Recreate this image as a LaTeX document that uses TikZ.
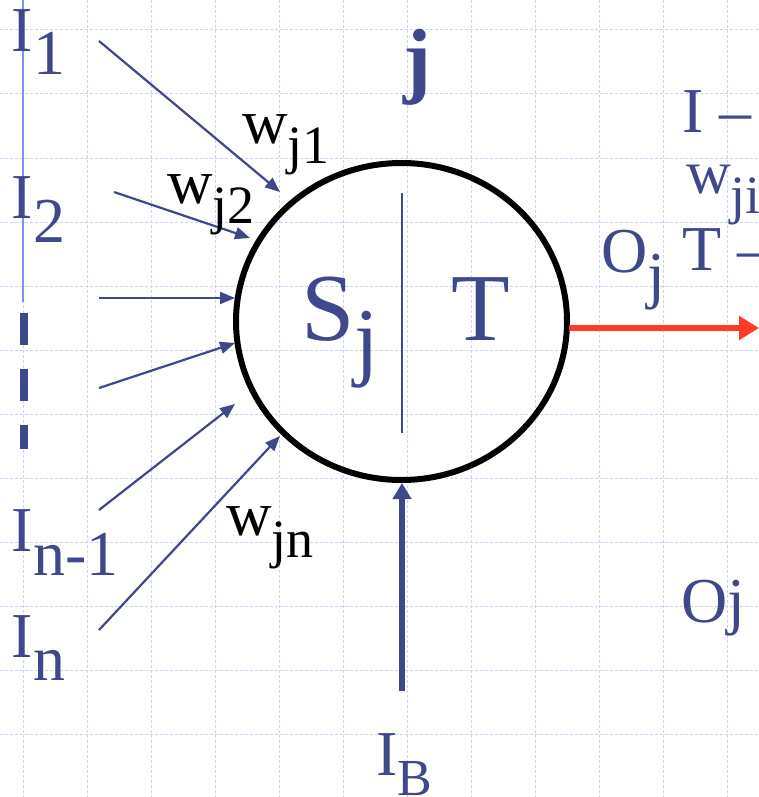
\documentclass[tikz,border=0pt]{standalone}
\usepackage{fontspec}
\setmainfont{Liberation Serif}
\usetikzlibrary{arrows.meta,shapes.geometric}
\definecolor{ink}{RGB}{64,72,140}
\definecolor{gridc}{RGB}{200,212,245}
\definecolor{axisc}{RGB}{120,150,240}
\definecolor{outred}{RGB}{255,58,40}
\newcommand\lowr[2]{\raisebox{-#1}{#2}}
\newcommand\fsz[1]{\fontsize{#1}{#1}\selectfont}
\begin{document}
\begin{tikzpicture}[x=1pt,y=-1pt,
  lbl/.style={inner sep=0pt, outer sep=0pt, anchor=base west, text=ink, font=\fsz{64}},
  wlbl/.style={lbl, text=black, font=\fsz{63}},
  big/.style={lbl, font=\fsz{96}},
  gridline/.style={gridc, line width=1pt, dash pattern=on 3pt off 2pt},
  inarrow/.style={ink, line width=2.2pt, -{Triangle[length=15pt,width=12pt]}},
]
\useasboundingbox (0,0) rectangle (759,797);
\fill[white] (0,0) rectangle (759,797);
\clip (0,0) rectangle (759,797);
% grid
\foreach \k in {0,...,11} {
  \draw[gridline] ({23+64*\k},0) -- ({23+64*\k},797);
  \draw[gridline] (0,{30+64*\k}) -- (759,{30+64*\k});
}
% left axis
\coordinate (axtop) at (23,0);
\coordinate (axbot) at (23,302);
\draw[axisc, line width=2.5pt] (axtop) -- (axbot);
\coordinate (dtop) at (24,313);
\coordinate (dbot) at (24,449);
\draw[ink, line width=8pt, dash pattern=on 32pt off 24pt] (dtop) -- (dbot);

% neuron
\node[draw=black, line width=6pt, ellipse, minimum width=331pt, minimum height=317pt, inner sep=0pt] (neuron) at (401.5,321.5) {};
\coordinate (divtop) at (402,193);
\coordinate (divbot) at (402,433);
\draw[ink, line width=1.5pt] (divtop) -- (divbot);
\node[big] (S) at (301,340) {S{\fsz{88}\lowr{29pt}{j}}};
\node[big] (T) at (451,340) {T};

% inputs
\coordinate (s1) at (99,41);   \coordinate (e1) at (280,192);
\coordinate (s2) at (114,192); \coordinate (e2) at (250,238);
\coordinate (s3) at (99,298);  \coordinate (e3) at (235,298);
\coordinate (s4) at (99,388);  \coordinate (e4) at (235,343);
\coordinate (s5) at (99,510);  \coordinate (e5) at (235,404);
\coordinate (s6) at (99,630);  \coordinate (e6) at (280,436);
\foreach \i in {1,...,6} \draw[inarrow] (s\i) -- (e\i);

% output
\coordinate (os) at (569,328);
\coordinate (oe) at (759,328);
\draw[outred, line width=6pt, -{Triangle[length=20pt,width=23pt]}] (os) -- (oe);

% bias
\coordinate (bs) at (402,691);
\coordinate (be) at (402,483);
\draw[ink, line width=6pt, -{Triangle[length=16pt,width=18pt]}] (bs) -- (be);

% labels
\node[lbl] (I1) at (12,52) {I\lowr{23pt}{1}};
\node[lbl] (I2) at (12,218) {I\lowr{24pt}{2}};
\node[lbl] (In1) at (12,551) {I\lowr{24pt}{n-1}};
\node[lbl] (In) at (12,657) {I\lowr{23pt}{n}};
\node[lbl, font=\fsz{84}\bfseries] (jtop) at (403,88) {j};
\node[wlbl] (w1) at (242,143) {w{\fsz{54}\lowr{20pt}{j1}}};
\node[wlbl] (w2) at (167,203) {w{\fsz{54}\lowr{20pt}{j2}}};
\node[wlbl] (wn) at (226,535) {w{\fsz{54}\lowr{22pt}{jn}}};
\node[lbl] (Idash) at (682,132) {I –};
\node[lbl, font=\fsz{62}] (wji) at (686,193) {w{\fsz{54}\lowr{20pt}{ji}}};
\node[lbl] (Tdash) at (682,270) {T –};
\node[lbl] (Oj1) at (601,272) {O\lowr{24pt}{j}};
\node[lbl] (Oj2) at (681,622) {Oj};
\node[lbl] (IB) at (376,775) {I{\fsz{52}\lowr{20pt}{B}}};
\end{tikzpicture}
\end{document}
